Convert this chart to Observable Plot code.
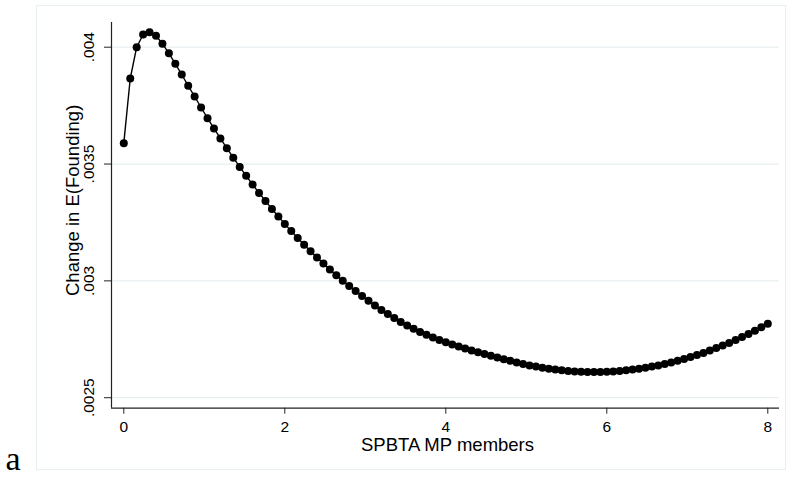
<!DOCTYPE html>
<html><head><meta charset="utf-8">
<script src="https://cdn.jsdelivr.net/npm/d3@7"></script>
<script src="https://cdn.jsdelivr.net/npm/@observablehq/plot@0.6"></script>
<style>
body{margin:0;background:#fff;}
#wrap{position:relative;width:789px;height:477px;overflow:hidden;}
#chart{position:absolute;left:0;top:0;}
#border{position:absolute;left:36px;top:5px;width:750px;height:465px;border:1px solid #e6eef0;box-sizing:border-box;pointer-events:none;}
</style></head><body>
<div id="wrap"><div id="chart"></div><div id="border"></div></div>
<script>
const xValues = [0, 0.08, 0.16, 0.24, 0.32, 0.4, 0.48, 0.56, 0.64, 0.72, 0.8, 0.88, 0.96, 1.04, 1.12, 1.2, 1.28, 1.36, 1.44, 1.52, 1.6, 1.68, 1.76, 1.84, 1.92, 2, 2.08, 2.16, 2.24, 2.32, 2.4, 2.48, 2.56, 2.64, 2.72, 2.8, 2.88, 2.96, 3.04, 3.12, 3.2, 3.28, 3.36, 3.44, 3.52, 3.6, 3.68, 3.76, 3.84, 3.92, 4, 4.08, 4.16, 4.24, 4.32, 4.4, 4.48, 4.56, 4.64, 4.72, 4.8, 4.88, 4.96, 5.04, 5.12, 5.2, 5.28, 5.36, 5.44, 5.52, 5.6, 5.68, 5.76, 5.84, 5.92, 6, 6.08, 6.16, 6.24, 6.32, 6.4, 6.48, 6.56, 6.64, 6.72, 6.8, 6.88, 6.96, 7.04, 7.12, 7.2, 7.28, 7.36, 7.44, 7.52, 7.6, 7.68, 7.76, 7.84, 7.92, 8];
const yValues = [0.0035892, 0.0038660, 0.0040000, 0.0040544, 0.0040642, 0.0040488, 0.0040146, 0.0039743, 0.0039290, 0.0038832,
  0.0038348, 0.0037890, 0.0037419, 0.0036962, 0.0036521, 0.0036093, 0.0035678, 0.0035271, 0.0034877, 0.0034496,
  0.0034124, 0.0033765, 0.0033418, 0.0033080, 0.0032755, 0.0032438, 0.0032130, 0.0031835, 0.0031548, 0.0031270,
  0.0031000, 0.0030739, 0.0030487, 0.0030243, 0.0030007, 0.0029780, 0.0029562, 0.0029352, 0.0029151, 0.0028950,
  0.0028758, 0.0028578, 0.0028407, 0.0028244, 0.0028090, 0.0027949, 0.0027816, 0.0027692, 0.0027576, 0.0027469,
  0.0027371, 0.0027277, 0.0027187, 0.0027101, 0.0027020, 0.0026943, 0.0026866, 0.0026793, 0.0026720, 0.0026648,
  0.0026579, 0.0026506, 0.0026442, 0.0026382, 0.0026331, 0.0026280, 0.0026237, 0.0026203, 0.0026173, 0.0026147,
  0.0026126, 0.0026113, 0.0026104, 0.0026100, 0.0026104, 0.0026113, 0.0026126, 0.0026147, 0.0026173, 0.0026203,
  0.0026237, 0.0026280, 0.0026331, 0.0026382, 0.0026442, 0.0026506, 0.0026579, 0.0026656, 0.0026738, 0.0026823,
  0.0026917, 0.0027016, 0.0027123, 0.0027230, 0.0027345, 0.0027469, 0.0027598, 0.0027730, 0.0027867, 0.0028013,
  0.0028163];
const xTicks = [0, 2, 4, 6, 8];
const xTickLabels = ["0", "2", "4", "6", "8"];
const yTicks = [0.0025, 0.003, 0.0035, 0.004];
const yTickLabels = [".0025", ".003", ".0035", ".004"];
const xTitle = "SPBTA MP members";
const yTitle = "Change in E(Founding)";
const panelLabel = ["a"];

const data = xValues.map((x, i) => ({x, y: yValues[i]}));
const xDomain = [-0.1528, 8.1453];
const yDomain = [0.0024551, 0.0041057];
const sans = "'Liberation Sans', Arial, Helvetica, sans-serif";

const chart = Plot.plot({
  width: 789, height: 477,
  marginLeft: 111, marginRight: 10, marginTop: 22, marginBottom: 69.3,
  style: {fontFamily: sans, background: "transparent", color: "#000", overflow: "visible"},
  x: {domain: xDomain, axis: null},
  y: {domain: yDomain, axis: null},
  marks: [
    Plot.ruleY(yTicks, {stroke: "#e7eff1", strokeWidth: 1.2}),
    Plot.ruleX([xDomain[0]], {stroke: "#222", strokeWidth: 1.2}),
    Plot.ruleY([yDomain[0]], {stroke: "#222", strokeWidth: 1.2}),
    Plot.axisX({ticks: xTicks, tickSize: 6, tickPadding: 7, fontSize: 15.5, tickFormat: (d) => xTickLabels[xTicks.indexOf(d)], label: null, stroke: "#222"}),
    Plot.axisY({ticks: yTicks, tickSize: 7, tickFormat: () => "", label: null, stroke: "#222"}),
    Plot.text(yTicks, {x: xDomain[0], y: (d) => d, text: (d, i) => yTickLabels[i], rotate: -90, dx: -22, fontSize: 15.5, textAnchor: "middle", lineAnchor: "middle", fill: "#000"}),
    Plot.text([yTitle], {frameAnchor: "left", text: (d) => d, rotate: -90, dx: -38, dy: -15, fontSize: 18.5, textAnchor: "middle", lineAnchor: "middle", fill: "#000"}),
    Plot.text([xTitle], {frameAnchor: "bottom", text: (d) => d, dx: 2, dy: 36.4, fontSize: 18.5, textAnchor: "middle", lineAnchor: "middle", fill: "#000"}),
    Plot.line(data, {x: "x", y: "y", stroke: "#000", strokeWidth: 1.4}),
    Plot.dot(data, {x: "x", y: "y", r: 4, fill: "#000", stroke: "none"}),
    Plot.text(panelLabel, {frameAnchor: "bottom-left", text: (d) => d, dx: -106, dy: 51, fontSize: 34, fontFamily: "'Liberation Serif', 'Times New Roman', serif", textAnchor: "start", lineAnchor: "middle", fill: "#000"})
  ]
});
document.getElementById("chart").appendChild(chart);
</script>
</body></html>
